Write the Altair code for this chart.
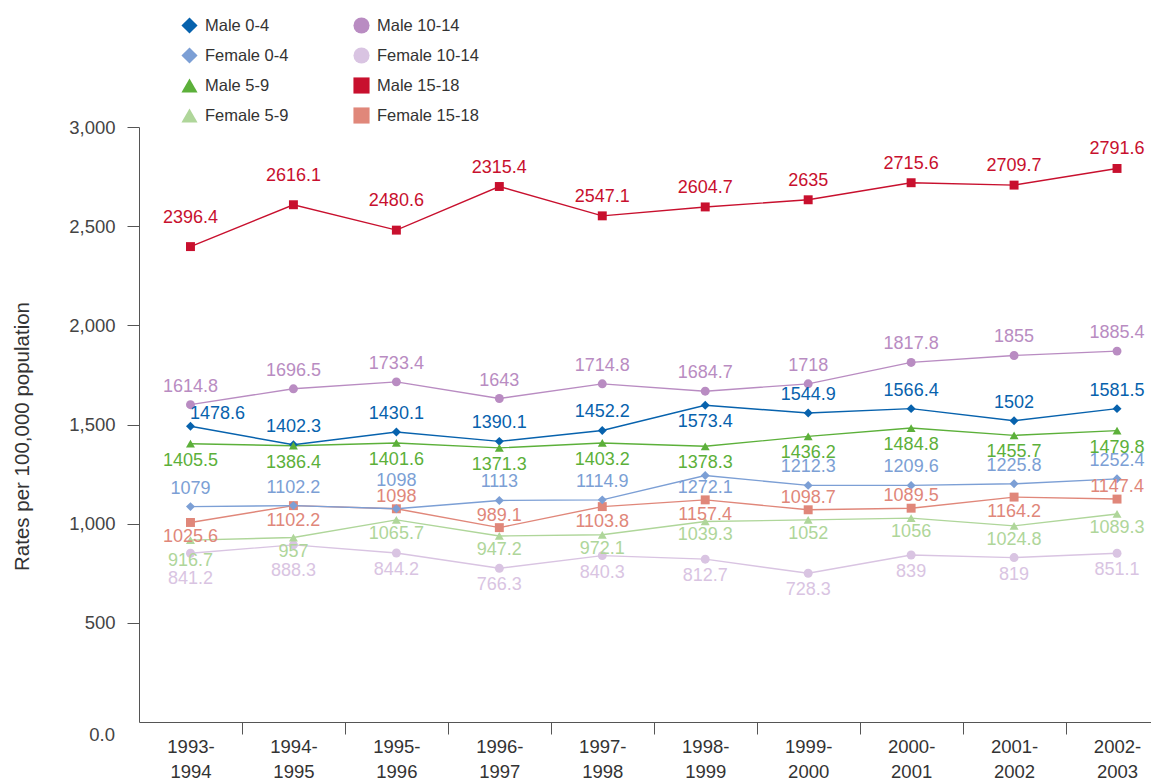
import altair as alt
import pandas as pd

periods = ["1993-1994", "1994-1995", "1995-1996", "1996-1997", "1997-1998",
           "1998-1999", "1999-2000", "2000-2001", "2001-2002", "2002-2003"]

series_names = ["Male 0-4", "Female 0-4", "Male 5-9", "Female 5-9",
                "Male 10-14", "Female 10-14", "Male 15-18", "Female 15-18"]

# values as plotted
male_0_4 = [1491, 1398, 1462, 1415, 1470, 1597, 1558, 1580, 1519, 1580]
female_0_4 = [1086, 1091, 1075, 1117, 1120, 1243, 1193, 1193, 1201, 1226]
male_5_9 = [1403, 1393, 1407, 1382, 1407, 1390, 1440, 1482, 1445, 1469]
female_5_9 = [917, 930, 1019, 938, 944, 1011, 1019, 1028, 989, 1049]
male_10_14 = [1600, 1680, 1715, 1631, 1705, 1668, 1705, 1813, 1848, 1870]
female_10_14 = [851, 893, 852, 775, 839, 821, 750, 842, 829, 851]
male_15_18 = [2397, 2608, 2480, 2700, 2552, 2597, 2633, 2719, 2707, 2791]
female_15_18 = [1006, 1091, 1075, 980, 1086, 1120, 1070, 1078, 1134, 1124]

# value labels as printed
male_0_4_labels = ["1478.6", "1402.3", "1430.1", "1390.1", "1452.2", "1573.4", "1544.9", "1566.4", "1502", "1581.5"]
female_0_4_labels = ["1079", "1102.2", "1098", "1113", "1114.9", "1272.1", "1212.3", "1209.6", "1225.8", "1252.4"]
male_5_9_labels = ["1405.5", "1386.4", "1401.6", "1371.3", "1403.2", "1378.3", "1436.2", "1484.8", "1455.7", "1479.8"]
female_5_9_labels = ["916.7", "957", "1065.7", "947.2", "972.1", "1039.3", "1052", "1056", "1024.8", "1089.3"]
male_10_14_labels = ["1614.8", "1696.5", "1733.4", "1643", "1714.8", "1684.7", "1718", "1817.8", "1855", "1885.4"]
female_10_14_labels = ["841.2", "888.3", "844.2", "766.3", "840.3", "812.7", "728.3", "839", "819", "851.1"]
male_15_18_labels = ["2396.4", "2616.1", "2480.6", "2315.4", "2547.1", "2604.7", "2635", "2715.6", "2709.7", "2791.6"]
female_15_18_labels = ["1025.6", "1102.2", "1098", "989.1", "1103.8", "1157.4", "1098.7", "1089.5", "1164.2", "1147.4"]

# which side of the marker each printed label sits on
male_0_4_side = ["ar", "a", "a", "a", "a", "b", "a", "a", "a", "a"]
female_0_4_side = ["a", "a", "aa", "a", "a", "b", "a", "a", "a", "a"]
male_5_9_side = ["b"] * 10
female_5_9_side = ["bb", "b", "b", "b", "b", "b", "b", "b", "b", "b"]
male_10_14_side = ["a"] * 10
female_10_14_side = ["bb", "bb", "b", "b", "b", "b", "b", "b", "b", "b"]
male_15_18_side = ["aa", "aa", "aa", "a", "a", "a", "a", "a", "a", "a"]
female_15_18_side = ["b", "b", "a", "a", "b", "b", "a", "a", "b", "a"]

y_ticks = [500, 1000, 1500, 2000, 2500, 3000]
zero_label = "0.0"
y_title = "Rates per 100,000 population"

# ---- styling ----
colors = {
    "Male 0-4": "#0762ad", "Female 0-4": "#7c9fd5",
    "Male 5-9": "#5cb03a", "Female 5-9": "#afd69a",
    "Male 10-14": "#b98cc2", "Female 10-14": "#d9c4e2",
    "Male 15-18": "#c8102e", "Female 15-18": "#e0877a",
}
shapes = {
    "Male 0-4": "diamond", "Female 0-4": "diamond",
    "Male 5-9": "triangle-up", "Female 5-9": "triangle-up",
    "Male 10-14": "circle", "Female 10-14": "circle",
    "Male 15-18": "square", "Female 15-18": "square",
}
label_offsets = {  # side -> (dx, dy) in pixels
    "Male 0-4": {"a": (0, -18), "b": (0, 17), "ar": (27, -12)},
    "Female 0-4": {"a": (0, -18), "aa": (0, -28), "b": (0, 13)},
    "Male 5-9": {"b": (0, 17)},
    "Female 5-9": {"b": (0, 14), "bb": (0, 21)},
    "Male 10-14": {"a": (0, -18)},
    "Female 10-14": {"b": (0, 17), "bb": (0, 26)},
    "Male 15-18": {"a": (0, -19), "aa": (0, -29)},
    "Female 15-18": {"a": (0, -12), "b": (0, 15)},
}

values = {
    "Male 0-4": (male_0_4, male_0_4_labels, male_0_4_side),
    "Female 0-4": (female_0_4, female_0_4_labels, female_0_4_side),
    "Male 5-9": (male_5_9, male_5_9_labels, male_5_9_side),
    "Female 5-9": (female_5_9, female_5_9_labels, female_5_9_side),
    "Male 10-14": (male_10_14, male_10_14_labels, male_10_14_side),
    "Female 10-14": (female_10_14, female_10_14_labels, female_10_14_side),
    "Male 15-18": (male_15_18, male_15_18_labels, male_15_18_side),
    "Female 15-18": (female_15_18, female_15_18_labels, female_15_18_side),
}

draw_order = ["Female 10-14", "Female 5-9", "Female 15-18", "Female 0-4",
              "Male 10-14", "Male 0-4", "Male 5-9", "Male 15-18"]
rows = []
for s in draw_order:
    vals, labs, sides = values[s]
    for i, (v, l, p) in enumerate(zip(vals, labs, sides)):
        rows.append({"series": s, "i": i, "period": periods[i], "value": v,
                     "label": l, "side": p})
df = pd.DataFrame(rows)

# the two-column legend fills column by column
legend_order = series_names

color_scale = alt.Scale(domain=legend_order, range=[colors[s] for s in legend_order])
shape_scale = alt.Scale(domain=legend_order, range=[shapes[s] for s in legend_order])

step_px = 1012 / 9.83
x_scale = alt.Scale(domain=[-0.5, 9.33], nice=False, zero=False)
y_scale = alt.Scale(domain=[0, 3000], nice=False)

period_js = "[" + ",".join("['%s','%s']" % (p[:5], p[5:]) for p in periods) + "]"

x_axis = alt.Axis(
    title=None, values=list(range(len(periods))), labelExpr=f"{period_js}[datum.value]",
    tickOffset=step_px / 2, labelOffset=-step_px / 2, tickSize=12,
    tickColor="#555", domainColor="#555", grid=False,
    labelFont="Liberation Sans", labelFontSize=18.5, labelColor="#333",
    labelLineHeight=25, labelBaseline="top", labelPadding=3, labelAlign="center",
    labelFlush=False, labelOverlap=False,
)
y_axis = alt.Axis(
    title=y_title, values=y_ticks, format=",d", tickSize=12, labelPadding=12,
    tickColor="#555", domainColor="#555", grid=False,
    labelFont="Liberation Sans", labelFontSize=18.5, labelColor="#444",
    titleFont="Liberation Sans", titleFontSize=20.5, titleFontWeight="normal",
    titleColor="#333", titleAngle=270, titleAlign="center", titleBaseline="middle",
    titleX=-117, titleY=309,
)

X = alt.X("i:Q", scale=x_scale, axis=x_axis)
Y = alt.Y("value:Q", scale=y_scale, axis=y_axis)

base = alt.Chart(df)

line_layers = [
    base.transform_filter(f"datum.series == '{s}'")
    .mark_line(strokeWidth=1.4, color=colors[s])
    .encode(x=X, y=Y, order=alt.Order("i:Q"))
    for s in draw_order
]

legend = alt.Legend(
    title=None, orient="none", legendX=42, legendY=-110, columns=2,
    symbolSize=260, symbolStrokeWidth=0, labelFont="Liberation Sans",
    labelFontSize=16.5, labelColor="#333", labelOffset=7,
    rowPadding=13, columnPadding=64, padding=0,
)

points = base.mark_point(filled=True, opacity=1, size=80, strokeWidth=0).encode(
    x=X, y=Y,
    color=alt.Color("series:N", scale=color_scale, legend=legend),
    shape=alt.Shape("series:N", scale=shape_scale, legend=legend),
)

text_layers = []
for s in draw_order:
    for side, (dx, dy) in label_offsets[s].items():
        text_layers.append(
            base.transform_filter(
                f"datum.series == '{s}' && datum.side == '{side}'"
            ).mark_text(
                font="Liberation Sans", fontSize=18, color=colors[s],
                dx=dx, dy=dy, align="center", baseline="middle",
            ).encode(x=X, y=Y, text="label:N")
        )

zero_df = pd.DataFrame({"i": [-0.5], "value": [0], "t": [zero_label]})
zero_text = alt.Chart(zero_df).mark_text(
    font="Liberation Sans", fontSize=18.5, color="#444",
    align="right", baseline="middle", dx=-24, dy=13,
).encode(x=X, y=Y, text="t:N")

chart = alt.layer(*line_layers, points, *text_layers, zero_text).properties(
    width=1012, height=595,
    autosize=alt.AutoSizeParams(type="none"),
    padding={"left": 131, "top": 119, "right": 0, "bottom": 58},
).configure_view(stroke=None)

chart.save("out.html", embed_options={"renderer": "svg", "actions": False})
